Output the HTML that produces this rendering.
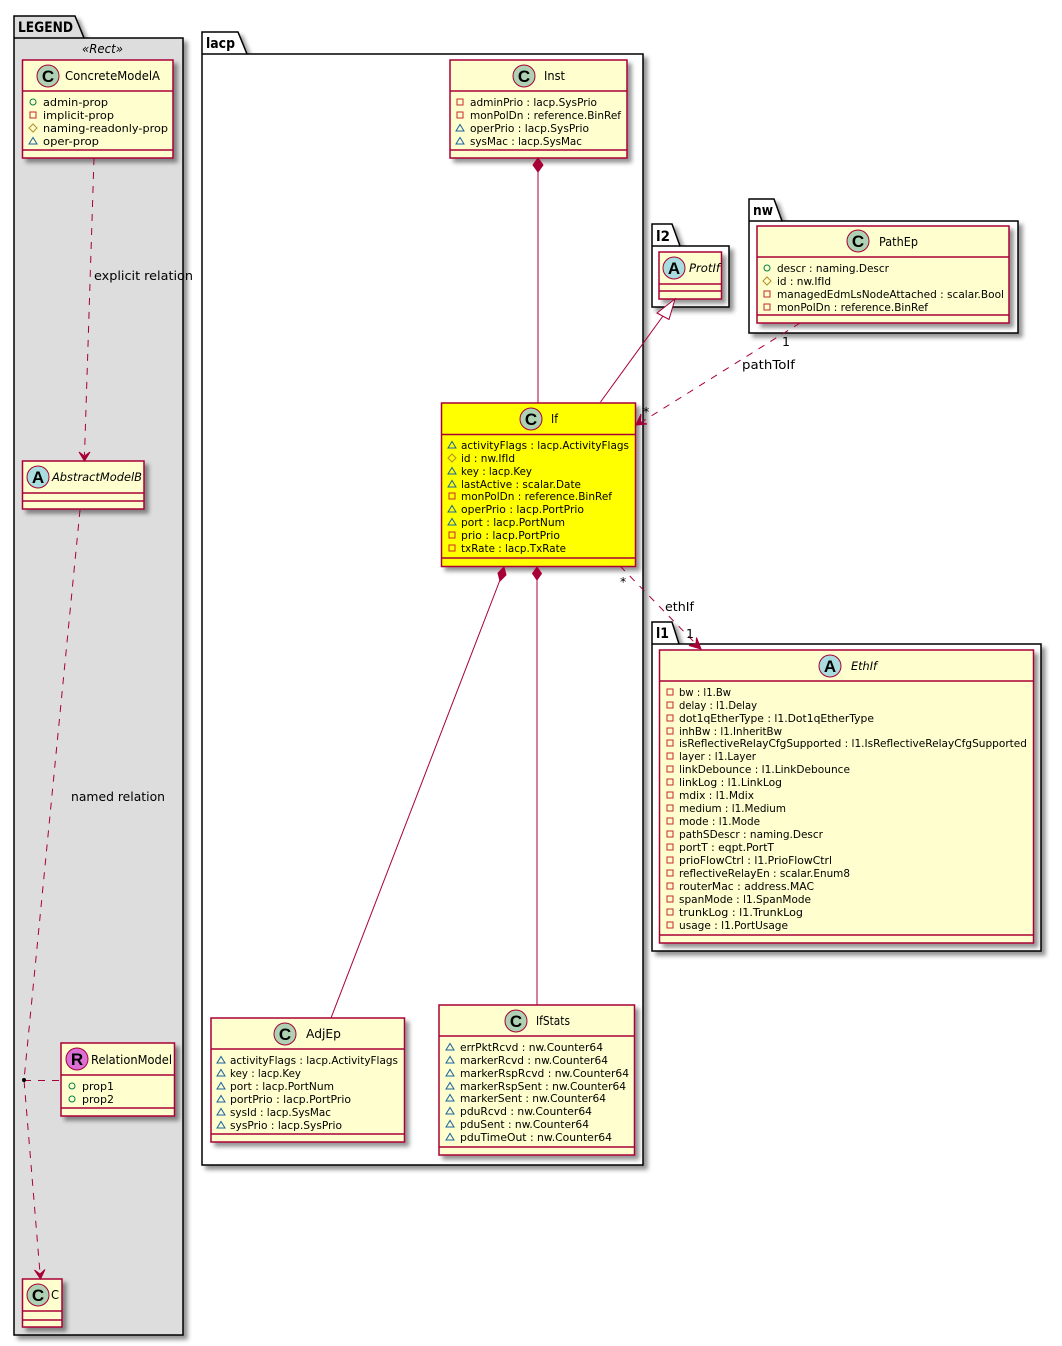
<!DOCTYPE html>
<html><head><meta charset="utf-8"><style>
html,body{margin:0;padding:0;background:#fff}
svg{display:block}
text{font-family:"DejaVu Sans","Liberation Sans",sans-serif;font-size:10.5px;fill:#000;lengthAdjust:spacingAndGlyphs}
.p{font-weight:bold;font-size:14px}
.n{font-size:12px}
.l{font-size:12.5px}
.i{font-style:italic;font-size:11.5px}
.g{font-family:"Liberation Sans",sans-serif;font-weight:bold;font-size:17px;text-anchor:middle}
.b{fill:#FEFECE;stroke:#A80036;stroke-width:1.5}
.y{fill:#FFFF00;stroke:#A80036;stroke-width:1.5}
.s{stroke:#A80036;stroke-width:1;fill:none}
.d{stroke:#A80036;stroke-width:1;fill:none;stroke-dasharray:7,7}
.k{fill:#fff;stroke:#000;stroke-width:1.5}
</style></head><body>
<svg width="1062" height="1346" viewBox="0 0 1062 1346" xmlns="http://www.w3.org/2000/svg">
<defs>
<filter id="sh" x="-10%" y="-10%" width="120%" height="120%"><feDropShadow dx="4" dy="4" stdDeviation="2" flood-color="#000" flood-opacity=".42"/></filter>
<circle id="o" r="3" fill="none" stroke="#038048"/>
<rect id="q" x="-3" y="-3" width="6" height="6" fill="none" stroke="#C82930"/>
<path id="m" d="M0-4L4 0L0 4L-4 0Z" fill="none" stroke="#B38D22"/>
<path id="t" d="M-4 3L0-3.5L4 3Z" fill="none" stroke="#1963A0"/>
</defs>

<!-- packages -->
<g filter="url(#sh)">
<path class="k" style="fill:#DDD" d="M14 38V16H75L84 38H183V1335H14Z"/>
<path class="k" d="M202 54V32H238L247 54H643V1165H202Z"/>
<path class="k" d="M652 246V224H672L680 246H729V307H652Z"/>
<path class="k" d="M749 221V199H774L782 221H1018V333H749Z"/>
<path class="k" d="M652 644V622H672L679 644H1041V951H652Z"/>
</g>
<path d="M14 38H84M202 54H247M652 246H680M749 221H782M652 644H679" stroke="#000" stroke-width="1.5"/>
<text class="p" x="18" y="32" textLength="55" lengthAdjust="spacingAndGlyphs">LEGEND</text>
<text class="p" x="206" y="48" textLength="29" lengthAdjust="spacingAndGlyphs">lacp</text>
<text class="p" x="656" y="241" textLength="14" lengthAdjust="spacingAndGlyphs">l2</text>
<text class="p" x="753" y="215" textLength="20" lengthAdjust="spacingAndGlyphs">nw</text>
<text class="p" x="656" y="638" textLength="13" lengthAdjust="spacingAndGlyphs">l1</text>
<text class="l" x="82" y="53" style="font-style:italic" textLength="41" lengthAdjust="spacingAndGlyphs">«Rect»</text>

<!-- class boxes -->
<g filter="url(#sh)">
<rect class="b" x="22.5" y="60" width="150.5" height="98"/>
<rect class="b" x="22.5" y="461" width="121.5" height="48"/>
<rect class="b" x="61" y="1043" width="113.5" height="73"/>
<rect class="b" x="22.5" y="1279" width="39.5" height="48"/>
<rect class="b" x="450" y="60" width="177" height="98"/>
<rect class="y" x="441.5" y="403" width="194" height="163.5"/>
<rect class="b" x="211" y="1018" width="193.5" height="124"/>
<rect class="b" x="439" y="1005" width="195.5" height="150"/>
<rect class="b" x="659" y="252" width="62.5" height="47"/>
<rect class="b" x="757" y="226" width="252" height="97"/>
<rect class="b" x="659.5" y="650" width="374" height="293"/>
</g>
<path d="M22.5 91H173M22.5 150H173M22.5 493H144M22.5 501H144M61 1075H174.5M61 1108H174.5M22.5 1311H62M22.5 1320H62M450 91H627M450 150H627M441.5 434.5H635.5M441.5 558H635.5M211 1049H404.5M211 1134H404.5M439 1036H634.5M439 1147H634.5M659 284H721.5M659 291H721.5M757 257H1009M757 315H1009M659.5 681H1033.5M659.5 935H1033.5" stroke="#A80036" stroke-width="1.5" fill="none"/>

<!-- connectors -->
<path class="d" d="M94 158L84.5 455"/>
<path class="s" d="M79 452L84.5 461L90 452L84.500 456Z" fill="#A80036" style="fill:#A80036"/>
<path class="d" d="M80 510L24 1080L40 1273"/>
<path class="s" d="M34.500 1270L40.500 1279L45 1269.500L40 1274Z" style="fill:#A80036"/>
<path class="d" d="M24 1080.500H61"/>
<circle cx="24" cy="1080" r="2" fill="#000"/>

<path class="s" d="M538 172V403"/>
<path d="M538 158L543 165L538 172L533 165Z" fill="#A80036" stroke="#A80036"/>
<path class="s" d="M500 580L331 1018"/>
<path d="M504 567L506 575L500 581L498 573Z" fill="#A80036" stroke="#A80036"/>
<path class="s" d="M537 580V1005"/>
<path d="M537 567L541.500 573.500L537 580L532.500 573.500Z" fill="#A80036" stroke="#A80036"/>
<path class="s" d="M600.500 402L663 316"/>
<path class="s" d="M675 299L657 313L669 319.500Z" style="fill:#fff"/>
<path class="d" d="M800 323L640 423"/>
<path d="M636 425L641 414L640.500 422.500L647 424Z" fill="#A80036" stroke="#A80036"/>
<path class="d" d="M620 566L696 644"/>
<path d="M701 649L689 645.500L696 644L696.500 637.500Z" fill="#A80036" stroke="#A80036"/>

<!-- connector labels -->
<text class="l" x="94" y="280" textLength="99" lengthAdjust="spacingAndGlyphs">explicit relation</text>
<text class="l" x="71" y="801" textLength="94" lengthAdjust="spacingAndGlyphs">named relation</text>
<text class="l" x="742" y="369" textLength="53" lengthAdjust="spacingAndGlyphs">pathToIf</text>
<text class="l" x="665" y="611" textLength="29" lengthAdjust="spacingAndGlyphs">ethIf</text>
<text class="l" x="782" y="346">1</text>
<text class="l" x="686" y="638">1</text>
<text class="l" x="643" y="416">*</text>
<text class="l" x="620" y="586">*</text>

<!-- spots -->
<g stroke="#A80036" stroke-width="1">
<circle cx="48" cy="76" r="11" fill="#ADD1B2"/><circle cx="38" cy="477" r="11" fill="#A9DCDF"/><circle cx="77" cy="1059" r="11" fill="#DA70D6"/><circle cx="38" cy="1295" r="11" fill="#ADD1B2"/><circle cx="524" cy="76" r="11" fill="#ADD1B2"/><circle cx="531" cy="419" r="11" fill="#ADD1B2"/><circle cx="285" cy="1034" r="11" fill="#ADD1B2"/><circle cx="516" cy="1021" r="11" fill="#ADD1B2"/><circle cx="674" cy="268" r="11" fill="#A9DCDF"/><circle cx="858" cy="241" r="11" fill="#ADD1B2"/><circle cx="830" cy="666" r="11" fill="#A9DCDF"/>
</g>
<text class="g" x="48" y="82">C</text><text class="g" x="38" y="483">A</text><text class="g" x="77" y="1065">R</text><text class="g" x="38" y="1301">C</text><text class="g" x="524" y="82">C</text><text class="g" x="531" y="425">C</text><text class="g" x="285" y="1040">C</text><text class="g" x="516" y="1027">C</text><text class="g" x="674" y="274">A</text><text class="g" x="858" y="247">C</text><text class="g" x="830" y="672">A</text>

<!-- class names -->
<text class="n" x="65" y="80" textLength="95" lengthAdjust="spacingAndGlyphs">ConcreteModelA</text>
<text class="i" x="52" y="481" textLength="90" lengthAdjust="spacingAndGlyphs">AbstractModelB</text>
<text class="n" x="91" y="1064" textLength="81" lengthAdjust="spacingAndGlyphs">RelationModel</text>
<text class="n" x="51" y="1299" textLength="8" lengthAdjust="spacingAndGlyphs">C</text>
<text class="n" x="544" y="80" textLength="21" lengthAdjust="spacingAndGlyphs">Inst</text>
<text class="n" x="551" y="423" textLength="7" lengthAdjust="spacingAndGlyphs">If</text>
<text class="n" x="306" y="1038" textLength="35" lengthAdjust="spacingAndGlyphs">AdjEp</text>
<text class="n" x="536" y="1025" textLength="34" lengthAdjust="spacingAndGlyphs">IfStats</text>
<text class="i" x="689" y="272" textLength="31" lengthAdjust="spacingAndGlyphs">ProtIf</text>
<text class="n" x="879" y="246" textLength="39" lengthAdjust="spacingAndGlyphs">PathEp</text>
<text class="i" x="851" y="670" textLength="26" lengthAdjust="spacingAndGlyphs">EthIf</text>

<!-- members: ConcreteModelA -->
<use href="#o" x="33" y="102"/><text x="43" y="106" textLength="65" lengthAdjust="spacingAndGlyphs">admin-prop</text>
<use href="#q" x="33" y="115"/><text x="43" y="119" textLength="71" lengthAdjust="spacingAndGlyphs">implicit-prop</text>
<use href="#m" x="33" y="128"/><text x="43" y="132" textLength="125" lengthAdjust="spacingAndGlyphs">naming-readonly-prop</text>
<use href="#t" x="33" y="141"/><text x="43" y="145" textLength="56" lengthAdjust="spacingAndGlyphs">oper-prop</text>
<!-- RelationModel -->
<use href="#o" x="72" y="1086"/><text x="82" y="1090" textLength="32" lengthAdjust="spacingAndGlyphs">prop1</text>
<use href="#o" x="72" y="1099"/><text x="82" y="1103" textLength="32" lengthAdjust="spacingAndGlyphs">prop2</text>
<!-- Inst -->
<use href="#q" x="460" y="102"/><text x="470" y="106" textLength="127" lengthAdjust="spacingAndGlyphs">adminPrio : lacp.SysPrio</text>
<use href="#q" x="460" y="115"/><text x="470" y="119" textLength="151" lengthAdjust="spacingAndGlyphs">monPolDn : reference.BinRef</text>
<use href="#t" x="460" y="128"/><text x="470" y="132" textLength="119" lengthAdjust="spacingAndGlyphs">operPrio : lacp.SysPrio</text>
<use href="#t" x="460" y="141"/><text x="470" y="145" textLength="112" lengthAdjust="spacingAndGlyphs">sysMac : lacp.SysMac</text>
<!-- If -->
<use href="#t" x="452" y="445"/><text x="461" y="449" textLength="168" lengthAdjust="spacingAndGlyphs">activityFlags : lacp.ActivityFlags</text>
<use href="#m" x="452" y="458"/><text x="461" y="462" textLength="54" lengthAdjust="spacingAndGlyphs">id : nw.IfId</text>
<use href="#t" x="452" y="471"/><text x="461" y="475" textLength="71" lengthAdjust="spacingAndGlyphs">key : lacp.Key</text>
<use href="#t" x="452" y="484"/><text x="461" y="488" textLength="120" lengthAdjust="spacingAndGlyphs">lastActive : scalar.Date</text>
<use href="#q" x="452" y="496"/><text x="461" y="500" textLength="151" lengthAdjust="spacingAndGlyphs">monPolDn : reference.BinRef</text>
<use href="#t" x="452" y="509"/><text x="461" y="513" textLength="123" lengthAdjust="spacingAndGlyphs">operPrio : lacp.PortPrio</text>
<use href="#t" x="452" y="522"/><text x="461" y="526" textLength="104" lengthAdjust="spacingAndGlyphs">port : lacp.PortNum</text>
<use href="#q" x="452" y="535"/><text x="461" y="539" textLength="99" lengthAdjust="spacingAndGlyphs">prio : lacp.PortPrio</text>
<use href="#q" x="452" y="548"/><text x="461" y="552" textLength="105" lengthAdjust="spacingAndGlyphs">txRate : lacp.TxRate</text>
<!-- AdjEp -->
<use href="#t" x="221" y="1060"/><text x="230" y="1064" textLength="168" lengthAdjust="spacingAndGlyphs">activityFlags : lacp.ActivityFlags</text>
<use href="#t" x="221" y="1073"/><text x="230" y="1077" textLength="71" lengthAdjust="spacingAndGlyphs">key : lacp.Key</text>
<use href="#t" x="221" y="1086"/><text x="230" y="1090" textLength="104" lengthAdjust="spacingAndGlyphs">port : lacp.PortNum</text>
<use href="#t" x="221" y="1099"/><text x="230" y="1103" textLength="121" lengthAdjust="spacingAndGlyphs">portPrio : lacp.PortPrio</text>
<use href="#t" x="221" y="1112"/><text x="230" y="1116" textLength="101" lengthAdjust="spacingAndGlyphs">sysId : lacp.SysMac</text>
<use href="#t" x="221" y="1125"/><text x="230" y="1129" textLength="112" lengthAdjust="spacingAndGlyphs">sysPrio : lacp.SysPrio</text>
<!-- IfStats -->
<use href="#t" x="450" y="1047"/><text x="460" y="1051" textLength="143" lengthAdjust="spacingAndGlyphs">errPktRcvd : nw.Counter64</text>
<use href="#t" x="450" y="1060"/><text x="460" y="1064" textLength="148" lengthAdjust="spacingAndGlyphs">markerRcvd : nw.Counter64</text>
<use href="#t" x="450" y="1073"/><text x="460" y="1077" textLength="169" lengthAdjust="spacingAndGlyphs">markerRspRcvd : nw.Counter64</text>
<use href="#t" x="450" y="1086"/><text x="460" y="1090" textLength="166" lengthAdjust="spacingAndGlyphs">markerRspSent : nw.Counter64</text>
<use href="#t" x="450" y="1098"/><text x="460" y="1102" textLength="146" lengthAdjust="spacingAndGlyphs">markerSent : nw.Counter64</text>
<use href="#t" x="450" y="1111"/><text x="460" y="1115" textLength="132" lengthAdjust="spacingAndGlyphs">pduRcvd : nw.Counter64</text>
<use href="#t" x="450" y="1124"/><text x="460" y="1128" textLength="129" lengthAdjust="spacingAndGlyphs">pduSent : nw.Counter64</text>
<use href="#t" x="450" y="1137"/><text x="460" y="1141" textLength="152" lengthAdjust="spacingAndGlyphs">pduTimeOut : nw.Counter64</text>
<!-- PathEp -->
<use href="#o" x="767" y="268"/><text x="777" y="272" textLength="112" lengthAdjust="spacingAndGlyphs">descr : naming.Descr</text>
<use href="#m" x="767" y="281"/><text x="777" y="285" textLength="54" lengthAdjust="spacingAndGlyphs">id : nw.IfId</text>
<use href="#q" x="767" y="294"/><text x="777" y="298" textLength="227" lengthAdjust="spacingAndGlyphs">managedEdmLsNodeAttached : scalar.Bool</text>
<use href="#q" x="767" y="307"/><text x="777" y="311" textLength="151" lengthAdjust="spacingAndGlyphs">monPolDn : reference.BinRef</text>
<!-- EthIf -->
<use href="#q" x="670" y="692"/><text x="679" y="696" textLength="52" lengthAdjust="spacingAndGlyphs">bw : l1.Bw</text>
<use href="#q" x="670" y="705"/><text x="679" y="709" textLength="78" lengthAdjust="spacingAndGlyphs">delay : l1.Delay</text>
<use href="#q" x="670" y="718"/><text x="679" y="722" textLength="195" lengthAdjust="spacingAndGlyphs">dot1qEtherType : l1.Dot1qEtherType</text>
<use href="#q" x="670" y="731"/><text x="679" y="735" textLength="103" lengthAdjust="spacingAndGlyphs">inhBw : l1.InheritBw</text>
<use href="#q" x="670" y="743"/><text x="679" y="747" textLength="348" lengthAdjust="spacingAndGlyphs">isReflectiveRelayCfgSupported : l1.IsReflectiveRelayCfgSupported</text>
<use href="#q" x="670" y="756"/><text x="679" y="760" textLength="77" lengthAdjust="spacingAndGlyphs">layer : l1.Layer</text>
<use href="#q" x="670" y="769"/><text x="679" y="773" textLength="171" lengthAdjust="spacingAndGlyphs">linkDebounce : l1.LinkDebounce</text>
<use href="#q" x="670" y="782"/><text x="679" y="786" textLength="103" lengthAdjust="spacingAndGlyphs">linkLog : l1.LinkLog</text>
<use href="#q" x="670" y="795"/><text x="679" y="799" textLength="75" lengthAdjust="spacingAndGlyphs">mdix : l1.Mdix</text>
<use href="#q" x="670" y="808"/><text x="679" y="812" textLength="107" lengthAdjust="spacingAndGlyphs">medium : l1.Medium</text>
<use href="#q" x="670" y="821"/><text x="679" y="825" textLength="81" lengthAdjust="spacingAndGlyphs">mode : l1.Mode</text>
<use href="#q" x="670" y="834"/><text x="679" y="838" textLength="144" lengthAdjust="spacingAndGlyphs">pathSDescr : naming.Descr</text>
<use href="#q" x="670" y="847"/><text x="679" y="851" textLength="95" lengthAdjust="spacingAndGlyphs">portT : eqpt.PortT</text>
<use href="#q" x="670" y="860"/><text x="679" y="864" textLength="153" lengthAdjust="spacingAndGlyphs">prioFlowCtrl : l1.PrioFlowCtrl</text>
<use href="#q" x="670" y="873"/><text x="679" y="877" textLength="171" lengthAdjust="spacingAndGlyphs">reflectiveRelayEn : scalar.Enum8</text>
<use href="#q" x="670" y="886"/><text x="679" y="890" textLength="135" lengthAdjust="spacingAndGlyphs">routerMac : address.MAC</text>
<use href="#q" x="670" y="899"/><text x="679" y="903" textLength="132" lengthAdjust="spacingAndGlyphs">spanMode : l1.SpanMode</text>
<use href="#q" x="670" y="912"/><text x="679" y="916" textLength="124" lengthAdjust="spacingAndGlyphs">trunkLog : l1.TrunkLog</text>
<use href="#q" x="670" y="925"/><text x="679" y="929" textLength="109" lengthAdjust="spacingAndGlyphs">usage : l1.PortUsage</text>
</svg>
</body></html>
